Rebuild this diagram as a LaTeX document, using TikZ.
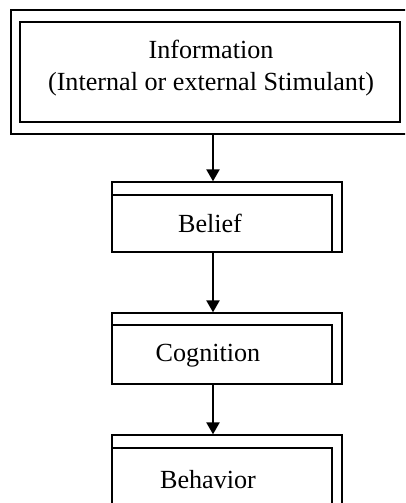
\documentclass[tikz,border=0pt]{standalone}
\usepackage{fontspec}
\setmainfont{Liberation Serif}
\usetikzlibrary{arrows.meta}

\tikzset{
  inbox/.style={draw, line width=1.1pt, inner sep=0pt},
  frame/.style={draw, line width=1.1pt, inner sep=0pt},
  label/.style={align=center, font=\fontsize{19.6}{24}\selectfont},
  flow/.style={draw, line width=1.1pt, -{Triangle[width=10pt,length=9pt]}}
}

\begin{document}
\begin{tikzpicture}[x=0.75pt, y=-0.75pt]
        \useasboundingbox (0,0) rectangle (405,503);
        \clip (0,0) rectangle (405,503);
        \coordinate (axis) at (213,0);

        \node[frame, minimum width=299.25pt, minimum height=93pt] (infoframe) at (210.5,72) {};
        \node[inbox, minimum width=285pt, minimum height=75pt] (info) at (210,72) {};
        \node[label] (infotext) at (211,68) {Information\\(Internal or external Stimulant)};

        \node[frame, minimum width=172.5pt, minimum height=52.5pt] (beliefframe) at (227,217) {};
        \node[inbox, minimum width=165pt, minimum height=42.75pt] (belief) at (222,223.5) {};
        \node[label] (belieftext) at (210,223.5) {Belief};

        \node[frame, minimum width=172.5pt, minimum height=53.25pt] (cognitionframe) at (227,348.5) {};
        \node[inbox, minimum width=165pt, minimum height=44.25pt] (cognition) at (222,354.5) {};
        \node[label] (cognitiontext) at (208,356) {Cognition};

        \node[frame, minimum width=172.5pt, minimum height=56.25pt] (behaviorframe) at (227,472.5) {};
        \node[inbox, minimum width=165pt, minimum height=46.5pt] (behavior) at (222,479) {};
        \node[label] (behaviortext) at (208,480) {Behavior};

        \draw[flow] (infoframe.south -| axis) -- (beliefframe.north -| axis);
        \draw[flow] (beliefframe.south -| axis) -- (cognitionframe.north -| axis);
        \draw[flow] (cognitionframe.south -| axis) -- (behaviorframe.north -| axis);
    \end{tikzpicture}
\end{document}
